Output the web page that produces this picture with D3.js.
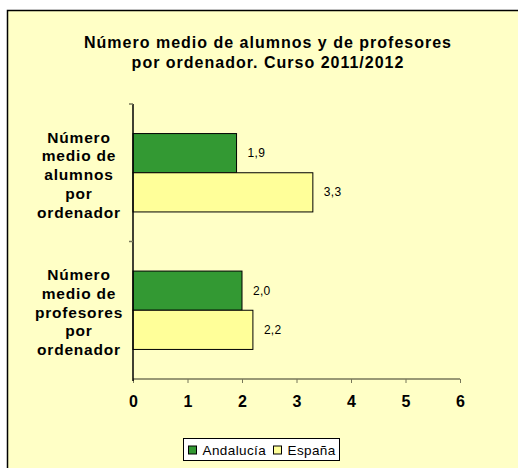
<!DOCTYPE html>
<html>
<head>
<meta charset="utf-8">
<script src="https://cdn.jsdelivr.net/npm/d3@7"></script>
<style>
  body { margin: 0; background: #fff; }
  svg { display: block; font-family: "Liberation Sans", Arial, sans-serif; }
</style>
</head>
<body>
<svg id="chart" width="518" height="468"></svg>
<script>
const categories = [
    ["Número", "medio de", "alumnos", "por", "ordenador"],
    ["Número", "medio de", "profesores", "por", "ordenador"]
];
const seriesNames = ["Andalucía", "España"];
const andalucia = [1.9, 2.0];
const espana = [3.3, 2.2];
const xTicks = [0, 1, 2, 3, 4, 5, 6];
const titleLines = ["Número medio de alumnos y de profesores", "por ordenador. Curso 2011/2012"];

const colors = ["#339933", "#FFFF99"];
const svg = d3.select("#chart");

// chart area background, only top/left border visible
svg.append("rect")
    .attr("x", 7.5).attr("y", 10.5)
    .attr("width", 540).attr("height", 500)
    .attr("fill", "#FFFFC6")
    .attr("stroke", "#000")
    .attr("stroke-width", 1.5);

svg.append("g").selectAll("text")
    .data(titleLines)
    .enter().append("text")
    .attr("x", 268)
    .attr("y", (d, i) => 48 + i * 20)
    .attr("text-anchor", "middle")
    .attr("font-size", "16px")
    .attr("font-weight", "bold")
    .attr("letter-spacing", "1px")
    .attr("fill", "#000")
    .text(d => d);

const x = d3.scaleLinear().domain([0, 6]).range([133, 460]);
const y = d3.scaleBand().domain([0, 1]).range([104, 379]).paddingInner(0.43).paddingOuter(0.215);

const rows = categories.map((c, i) => ({ i: i, lines: c, values: [andalucia[i], espana[i]] }));

// bars
const groups = svg.append("g").selectAll("g")
    .data(rows)
    .enter().append("g");

groups.selectAll("rect")
    .data(d => d.values.map((v, s) => ({ v: v, s: s, i: d.i })))
    .enter().append("rect")
    .attr("x", x(0))
    .attr("y", d => y(d.i) + d.s * y.bandwidth() / 2)
    .attr("width", d => x(d.v) - x(0))
    .attr("height", y.bandwidth() / 2)
    .attr("fill", d => colors[d.s])
    .attr("stroke", "#000")
    .attr("stroke-width", 1);

groups.selectAll("text.val")
    .data(d => d.values.map((v, s) => ({ v: v, s: s, i: d.i })))
    .enter().append("text")
    .attr("class", "val")
    .attr("x", d => x(d.v) + 11)
    .attr("y", d => y(d.i) + d.s * y.bandwidth() / 2 + y.bandwidth() / 4 + 4)
    .attr("font-size", "12px")
    .attr("letter-spacing", "0.3px")
    .attr("fill", "#000")
    .text(d => d3.format(".1f")(d.v).replace(".", ","));

// category labels
groups.append("text")
    .attr("text-anchor", "middle")
    .attr("font-size", "15.5px")
    .attr("font-weight", "bold")
    .attr("letter-spacing", "0.8px")
    .attr("fill", "#000")
    .selectAll("tspan")
    .data(d => d.lines.map((l, k) => ({ l: l, k: k, i: d.i })))
    .enter().append("tspan")
    .attr("x", 79)
    .attr("y", d => y(d.i) + y.bandwidth() / 2 - 30 + d.k * 18.7)
    .text(d => d.l);

// x axis
const xAxis = svg.append("g")
    .attr("transform", "translate(0,379)")
    .call(d3.axisBottom(x).tickValues(xTicks).tickSize(4).tickFormat(d3.format("d")));
xAxis.select(".domain").attr("stroke", "#77775a").attr("stroke-width", 1.5).attr("d", "M133,0H460");
xAxis.selectAll(".tick line").attr("stroke", "#77775a");
xAxis.selectAll(".tick text")
    .attr("dy", 0).attr("y", 28)
    .attr("font-size", "16px")
    .attr("font-weight", "bold")
    .attr("font-family", "Liberation Sans, Arial, sans-serif")
    .attr("fill", "#000");

// y axis
const yAxisG = svg.append("g");
yAxisG.append("line")
    .attr("x1", 133).attr("x2", 133)
    .attr("y1", 104).attr("y2", 381)
    .attr("stroke", "#000").attr("stroke-width", 1.5);
yAxisG.selectAll("line.tk")
    .data([104, (y(0) + y.bandwidth() + y(1)) / 2])
    .enter().append("line")
    .attr("class", "tk")
    .attr("x1", 129).attr("x2", 133)
    .attr("y1", d => d).attr("y2", d => d)
    .attr("stroke", "#77775a").attr("stroke-width", 1.5);

// legend
const legend = svg.append("g").attr("transform", "translate(183.5,438.5)");
legend.append("rect")
    .attr("width", 156).attr("height", 22)
    .attr("fill", "#fff").attr("stroke", "#000");
const items = legend.selectAll("g")
    .data(seriesNames)
    .enter().append("g")
    .attr("transform", (d, i) => `translate(${5 + i * 85},0)`);
items.append("rect")
    .attr("x", 0).attr("y", 7.5)
    .attr("width", 8).attr("height", 8)
    .attr("fill", (d, i) => colors[i])
    .attr("stroke", "#000");
items.append("text")
    .attr("x", 14).attr("y", 16.5)
    .attr("font-size", "13.5px")
    .attr("letter-spacing", "0.4px")
    .attr("fill", "#000")
    .text(d => d);
</script>
</body>
</html>
